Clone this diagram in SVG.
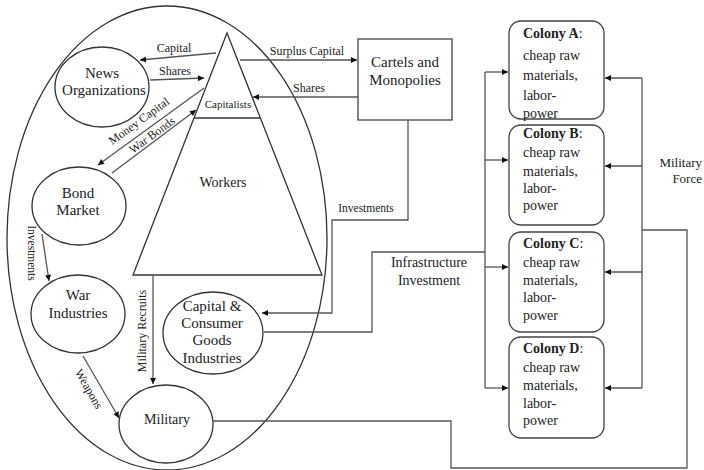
<svg xmlns="http://www.w3.org/2000/svg" width="704" height="470" viewBox="0 0 704 470">
<style>
.shape{fill:none;stroke:#333;stroke-width:1.3}
.box{fill:#fff;stroke:#444;stroke-width:1.3}
.con{fill:none;stroke:#555;stroke-width:1.3}
.arr{marker-end:url(#ah)}
text{font-family:"Liberation Serif","Times New Roman",serif;fill:#222}
.n15{font-size:15px;text-anchor:middle}
.l12{font-size:12px;text-anchor:middle}
.c14{font-size:14px}
</style>
<defs>
<marker id="ah" viewBox="0 0 10 10" refX="10" refY="5" markerWidth="7" markerHeight="6" markerUnits="userSpaceOnUse" orient="auto">
<path d="M0,0 L10,5 L0,10 z" fill="#111"/>
</marker>
</defs>
<rect width="704" height="470" fill="#fff"/>
<g id="society">
<ellipse class="shape" cx="167" cy="238" rx="160" ry="232"/>
</g>
<g id="class-triangle">
<polygon class="shape" points="227,33 133,275 322,275"/>
<line class="shape" x1="194" y1="118" x2="260" y2="118"/>
<text x="228" y="108" style="font-size:11px;text-anchor:middle">Capitalists</text>
<text x="223" y="187" class="c14" style="text-anchor:middle">Workers</text>
</g>
<g id="news">
<ellipse class="shape" cx="102" cy="87" rx="47" ry="40"/>
<text class="n15" x="102" y="78">News</text>
<text class="n15" x="104" y="95">Organizations</text>
</g>
<g id="bond">
<ellipse class="shape" cx="79" cy="206" rx="47" ry="39"/>
<text class="n15" x="78" y="198">Bond</text>
<text class="n15" x="78" y="215">Market</text>
</g>
<g id="war">
<ellipse class="shape" cx="78" cy="314" rx="47" ry="39"/>
<text class="n15" x="78" y="300">War</text>
<text class="n15" x="78" y="318">Industries</text>
</g>
<g id="military">
<ellipse class="shape" cx="166" cy="424" rx="47" ry="39"/>
<text x="167" y="424" class="c14" style="text-anchor:middle">Military</text>
</g>
<g id="goods">
<ellipse class="shape" cx="213" cy="333" rx="50" ry="41"/>
<text class="n15" x="212" y="311">Capital &amp;</text>
<text class="n15" x="212" y="328">Consumer</text>
<text class="n15" x="212" y="345">Goods</text>
<text class="n15" x="212" y="363">Industries</text>
</g>
<g id="cartels">
<rect class="box" x="358" y="39" width="94" height="81"/>
<text class="n15" x="405" y="67">Cartels and</text>
<text class="n15" x="405" y="85">Monopolies</text>
</g>
<g id="colonyA">
<rect class="box" x="509" y="21" width="95" height="98" rx="12"/>
<text class="c14" x="523" y="38"><tspan font-weight="bold">Colony A</tspan>:</text>
<text class="c14" x="523" y="60">cheap raw</text>
<text class="c14" x="523" y="80">materials,</text>
<text class="c14" x="523" y="100">labor-</text>
<text class="c14" x="523" y="118">power</text>
</g>
<g id="colonyB">
<rect class="box" x="509" y="125" width="95" height="100" rx="12"/>
<text class="c14" x="523" y="138"><tspan font-weight="bold">Colony B</tspan>:</text>
<text class="c14" x="523" y="157">cheap raw</text>
<text class="c14" x="523" y="176">materials,</text>
<text class="c14" x="523" y="193">labor-</text>
<text class="c14" x="523" y="210">power</text>
</g>
<g id="colonyC">
<rect class="box" x="509" y="232" width="95" height="100" rx="12"/>
<text class="c14" x="523" y="248"><tspan font-weight="bold">Colony C</tspan>:</text>
<text class="c14" x="523" y="267">cheap raw</text>
<text class="c14" x="523" y="285">materials,</text>
<text class="c14" x="523" y="302">labor-</text>
<text class="c14" x="523" y="320">power</text>
</g>
<g id="colonyD">
<rect class="box" x="509" y="337" width="95" height="101" rx="12"/>
<text class="c14" x="523" y="353"><tspan font-weight="bold">Colony D</tspan>:</text>
<text class="c14" x="523" y="372">cheap raw</text>
<text class="c14" x="523" y="390">materials,</text>
<text class="c14" x="523" y="408">labor-</text>
<text class="c14" x="523" y="425">power</text>
</g>
<g id="connectors">
<line class="con arr" x1="216" y1="53" x2="140" y2="60"/>
<text class="l12" x="174" y="52">Capital</text>
<line class="con arr" x1="150" y1="80" x2="204" y2="78"/>
<text class="l12" x="175" y="75">Shares</text>
<line class="con arr" x1="204" y1="88" x2="98" y2="165"/>
<text class="l12" transform="translate(139,121) rotate(-36)" x="0" y="4">Money Capital</text>
<line class="con arr" x1="112" y1="173" x2="196" y2="110"/>
<text class="l12" transform="translate(152,135) rotate(-36)" x="0" y="4">War Bonds</text>
<line class="con arr" x1="42" y1="234" x2="49" y2="281"/>
<text transform="translate(32,253) rotate(90)" x="0" y="4" style="font-size:11.5px;text-anchor:middle">Investments</text>
<line class="con arr" x1="83" y1="356" x2="119" y2="418"/>
<text class="l12" transform="translate(89,389) rotate(60)" x="0" y="4">Weapons</text>
<line class="con arr" x1="153" y1="275" x2="153" y2="384"/>
<text class="l12" transform="translate(142,331) rotate(-90)" x="0" y="4">Military Recruits</text>
<line class="con arr" x1="240" y1="60" x2="357" y2="60"/>
<text class="l12" x="307" y="55">Surplus Capital</text>
<line class="con arr" x1="358" y1="97" x2="253" y2="97"/>
<text class="l12" x="309" y="92">Shares</text>
<polyline class="con arr" points="408,120 408,220 332,220 332,313 262,313"/>
<text x="366" y="212" style="font-size:11.5px;text-anchor:middle">Investments</text>
<polyline class="con" points="264,332 372,332 372,252 485,252"/>
<text x="429" y="267" class="c14" style="text-anchor:middle">Infrastructure</text>
<text x="429" y="285" class="c14" style="text-anchor:middle">Investment</text>
<line class="con" x1="485" y1="72" x2="485" y2="388"/>
<line class="con arr" x1="485" y1="72" x2="508" y2="72"/>
<line class="con arr" x1="485" y1="160" x2="508" y2="160"/>
<line class="con arr" x1="485" y1="267" x2="508" y2="267"/>
<line class="con arr" x1="485" y1="388" x2="508" y2="388"/>
<polyline class="con" points="213,421 451,421 451,468 687,468 687,230 642,230"/>
<line class="con" x1="642" y1="78" x2="642" y2="388"/>
<line class="con arr" x1="642" y1="78" x2="605" y2="78"/>
<line class="con arr" x1="642" y1="166" x2="605" y2="166"/>
<line class="con arr" x1="642" y1="272" x2="605" y2="272"/>
<line class="con arr" x1="642" y1="388" x2="605" y2="388"/>
<text x="702" y="167" style="font-size:13px;text-anchor:end">Military</text>
<text x="702" y="183" style="font-size:13px;text-anchor:end">Force</text>
</g>
</svg>
